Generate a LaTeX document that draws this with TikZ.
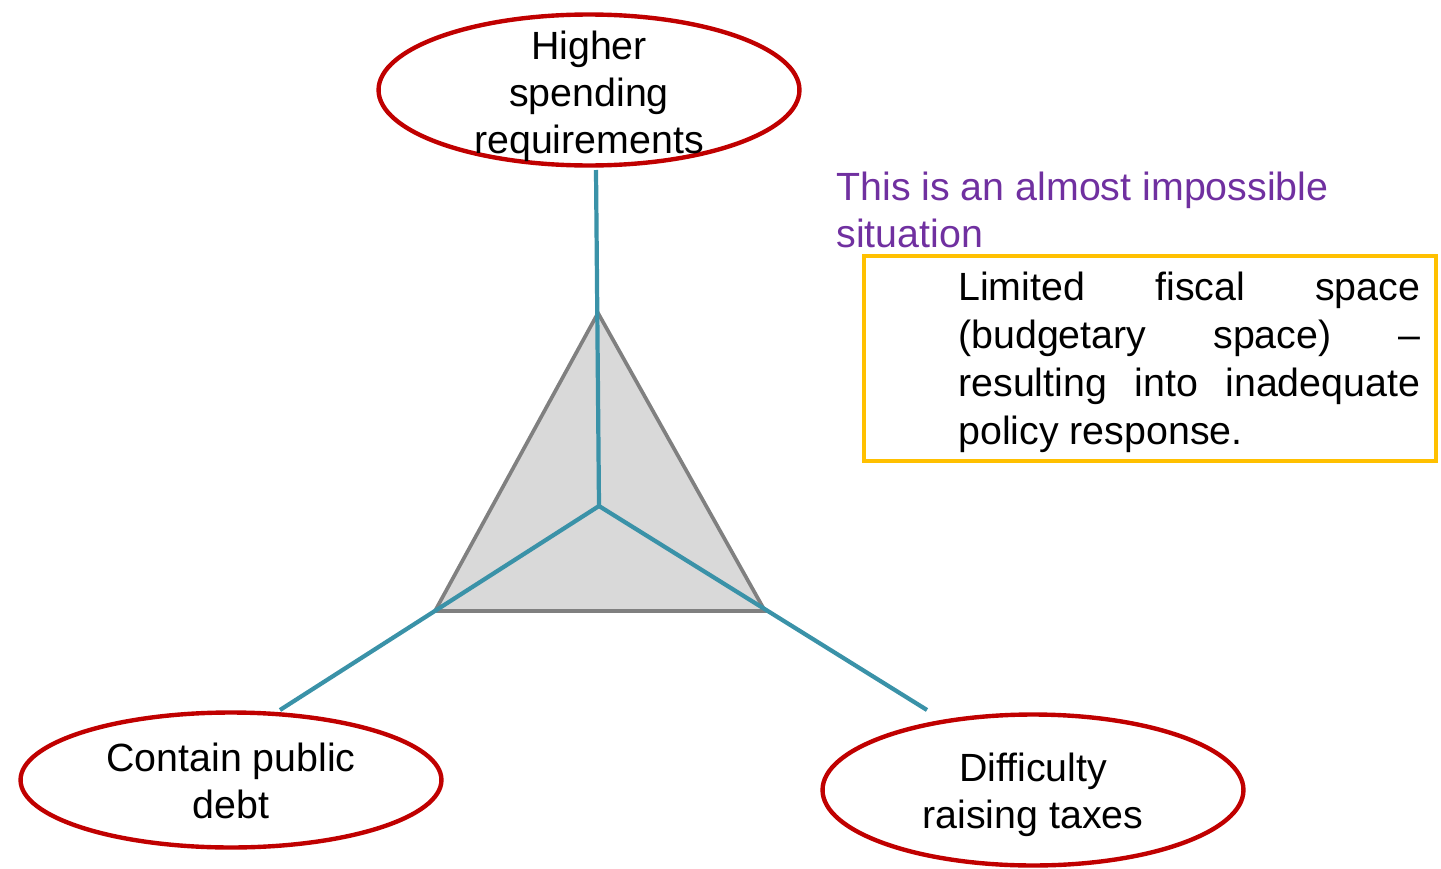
\documentclass[tikz,border=0pt]{standalone}
\usepackage{fontspec}
\setmainfont{Liberation Sans}
\usetikzlibrary{shapes.geometric}
\definecolor{ellred}{RGB}{192,0,0}
\definecolor{spoketeal}{RGB}{58,146,168}
\definecolor{trigray}{RGB}{128,128,128}
\definecolor{trifill}{RGB}{217,217,217}
\definecolor{boxyellow}{RGB}{255,192,0}
\definecolor{purp}{RGB}{112,48,160}
\begin{document}
\begin{tikzpicture}[x=0.02cm,y=-0.02cm,
  bigfont/.style={font=\fontsize{22.4pt}{26.8pt}\selectfont},
  goal/.style={ellipse, draw=ellred, fill=white, line width=2.5pt, inner sep=0pt,
    minimum width=8.42cm},
  goaltext/.style={inner sep=0pt, align=center, bigfont},
  spoke/.style={draw=spoketeal, line width=2.4pt},
  tri/.style={draw=trigray, fill=trifill, line width=2.1pt, line join=miter},
]
\useasboundingbox (0,0) rectangle (1441,869);
% triangle
\coordinate (apex) at (598,313);
\coordinate (bl) at (435,611);
\coordinate (br) at (765,611);
\coordinate (ctr) at (599,506);
\path[tri] (apex) -- (bl) -- (br) -- cycle;
% goals
\node[goal, minimum height=3.02cm] (top) at (589,90) {};
\node[goaltext] (toptext) at (589,96) {Higher\\spending\\requirements};
\node[goal, minimum height=2.70cm] (left) at (231,780) {};
\node[goaltext] (lefttext) at (231,781) {Contain public\\debt};
\node[goal, minimum height=3.02cm] (right) at (1033,790) {};
\node[goaltext] (righttext) at (1033,795) {Difficulty\\raising taxes};
% spokes
\coordinate (topend) at (596,170);
\coordinate (leftend) at (280,710);
\coordinate (rightend) at (927,710);
\draw[spoke] (topend) -- (ctr);
\draw[spoke] (ctr) -- (leftend);
\draw[spoke] (ctr) -- (rightend);
% texts
\node[anchor=north west, inner sep=0pt, align=left, text=purp, bigfont] (note) at (836,172)
  {This is an almost impossible\\situation};
\node[draw=boxyellow, line width=2.2pt, minimum width=11.44cm, minimum height=4.10cm,
  inner sep=0pt] (box) at (1150,358.5) {};
\node[anchor=north west, inner sep=0pt, text width=9.24cm, align=justify,
  font=\fontsize{22.4pt}{27.2pt}\selectfont] (boxtext) at (958,272)
  {Limited fiscal space\linebreak (budgetary space) –\linebreak resulting into inadequate\linebreak policy response.};
\end{tikzpicture}
\end{document}
